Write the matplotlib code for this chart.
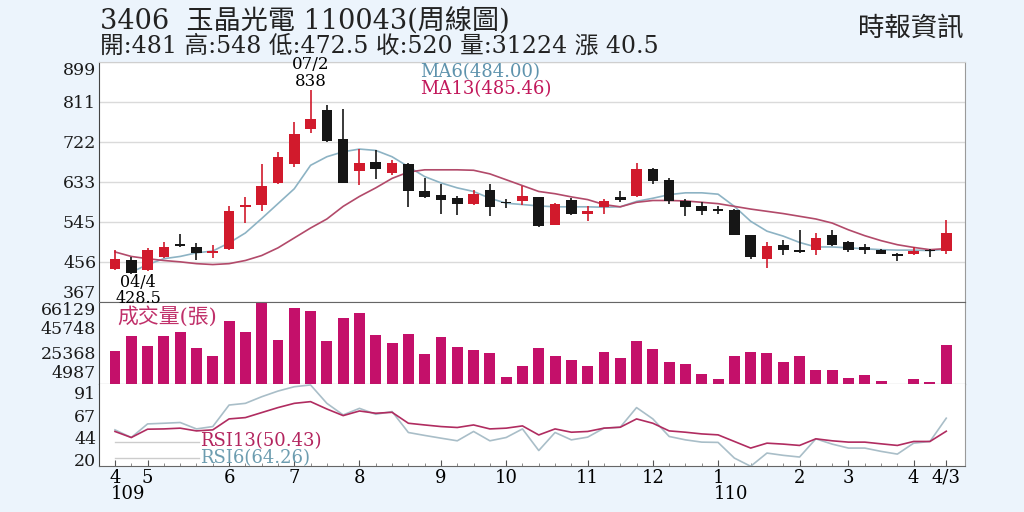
import numpy as np
import matplotlib.pyplot as plt
import matplotlib.transforms as mtransforms
from matplotlib.lines import Line2D

plt.rcParams['font.family'] = ['DejaVu Serif', 'Noto Sans CJK TC']

# weekly candles, 109/04 .. 110/04
opens = [441, 461, 439, 466, 494, 490, 476, 485, 578, 583, 631, 673, 750, 792, 728, 658, 678, 654,
         673, 614, 604, 597, 585, 616, 587, 590, 599, 538, 594, 561, 578, 599, 603, 662, 638, 591,
         579, 570, 570, 515, 463, 494, 483, 482, 516, 500, 488, 483, 474, 474, 481, 481]
highs = [482, 466, 486, 499, 518, 498, 494, 579, 599, 673, 700, 767, 838, 804, 794, 706, 703, 682,
         676, 642, 628, 601, 616, 629, 596, 625, 600, 586, 597, 580, 596, 614, 675, 663, 642, 596,
         589, 579, 573, 516, 499, 505, 526, 521, 527, 502, 496, 484, 475, 489, 485, 548]
lows = [438, 428.5, 436, 465, 489, 459, 465, 483, 543, 568, 628, 667, 741, 722, 630, 627, 639, 649,
        577, 598, 563, 559, 582, 557, 576, 583, 534, 537, 560, 546, 562, 588, 600, 629, 584, 557,
        560, 563, 515, 463, 443, 472, 476, 471, 492, 477, 474, 473, 457, 472, 467, 472.5]
closes = [463, 432, 483, 488, 492, 476, 481, 568, 581, 625, 689, 739, 772, 724, 631, 676, 661, 675,
          612, 600, 592, 584, 607, 578, 586, 602, 535, 585, 561, 569, 590, 592, 662, 636, 590, 578,
          569, 569, 516, 467, 492, 482, 478, 509, 494, 483, 482, 474, 468, 479, 479.5, 520]
volumes = [26600, 38900, 30700, 38600, 42100, 29400, 22500, 50600, 41600, 66129, 35600, 61500,
           58800, 34300, 53100, 57100, 39700, 32900, 40000, 24500, 37600, 29900, 27200, 24700,
           6000, 14400, 28800, 22900, 19000, 14900, 26100, 21200, 34800, 28300, 17600, 16300,
           7800, 4100, 22300, 26100, 25300, 17600, 22300, 11400, 11400, 4900, 7000, 2100, 300,
           3800, 1600, 31224]
ma6 = [np.nan, 433, 450, 463, 468, 476, 480, 498, 520, 552, 585, 618, 670, 689, 700, 706, 703, 689,
       667, 645, 631, 620, 612, 597, 586, 583, 580, 578, 578, 578, 577, 578, 590, 597, 605, 609,
       609, 606, 579, 546, 524, 513, 499, 489, 489, 487, 485, 483, 482, 482, 481, 484.00]
ma13 = [478, 468, 463, 459, 456, 452, 450, 452, 459, 470, 487, 509, 531, 551, 579, 601, 620, 641,
        655, 660, 660, 660, 659, 651, 638, 625, 612, 607, 600, 594, 583, 578, 588, 592, 592, 591,
        588, 585, 579, 573, 568, 563, 557, 551, 542, 527, 514, 503, 494, 488, 483, 485.46]
rsi13 = [50.2, 43.8, 52.6, 52.9, 53.7, 50.8, 51.9, 63.5, 64.9, 70.2, 75.5, 80, 81.8, 74, 67, 71.9,
         69.5, 70.5, 58.9, 57.1, 55.4, 54.4, 57.1, 52.9, 53.7, 56.1, 46.5, 52.9, 49.4, 50.2, 53.7,
         54.7, 63.5, 58.9, 50.8, 49.4, 47.6, 46.6, 39.6, 32.6, 37.8, 36.8, 35.4, 42.4, 40.3, 38.9,
         38.9, 37.1, 35.4, 39.6, 39.6, 50.43]
rsi6 = [51.9, 43.8, 58.2, 58.9, 59.7, 52.9, 55.4, 78.2, 80, 87, 93, 97.6, 99.5, 80, 67.7, 74.7,
        68.4, 71.3, 49.1, 46, 43.1, 40.3, 50.2, 40.3, 43.8, 52.9, 30, 49.1, 41.3, 44.2, 53.7, 54.7,
        75.5, 63.5, 44.9, 41.3, 38.9, 38.6, 22, 13.3, 27.3, 24.9, 23.1, 42.4, 36.8, 32.6, 32.6,
        29.1, 26.2, 37.8, 39.6, 64.26]

price_ticks = [367, 456, 545, 633, 722, 811, 899]
vol_ticks = [4987, 25368, 45748, 66129]
rsi_ticks = [20, 44, 67, 91]
month_pos = [0, 2, 7, 11, 15, 20, 24, 29, 33, 37, 42, 45, 49, 51]
month_lbl = ['4', '5', '6', '7', '8', '9', '10', '11', '12', '1', '2', '3', '4', '4/3']
year_pos = [0, 37]
year_lbl = ['109', '110']

RED = '#d11a2c'
BLACK = '#161616'
MAG = '#c4106a'
C_MA6 = '#8db3c4'
C_MA13 = '#b24a6a'
C_RSI6 = '#a9bec8'
C_RSI13 = '#b02c60'
BG = '#ecf4fc'

fig = plt.figure(figsize=(10.24, 5.12), dpi=100, facecolor=BG)


def px_axes(x0, y0, x1, y1):
    return fig.add_axes([x0 / 1024, 1 - y1 / 512, (x1 - x0) / 1024, (y1 - y0) / 512])


ax_p = px_axes(99, 62, 965, 302)
ax_v = px_axes(99, 302, 965, 384)
ax_r = px_axes(99, 384, 965, 466)
ax_p.set_zorder(3)

x = np.arange(len(closes))
o = np.array(opens, float)
c = np.array(closes, float)
cols = [RED if cc >= oo else BLACK for oo, cc in zip(o, c)]

# price panel
ax_p.vlines(x, lows, highs, colors=cols, lw=1.2, zorder=3)
ax_p.bar(x, np.maximum(np.abs(c - o), 3.5), bottom=np.minimum(o, c), width=0.65,
         color=cols, linewidth=0, zorder=4)
ax_p.plot(x, ma6, color=C_MA6, lw=1.2, zorder=2)
ax_p.plot(x, ma13, color=C_MA13, lw=1.2, zorder=2)
ax_p.set_ylim(price_ticks[0], price_ticks[-1])
ax_p.set_yticks(price_ticks)
ax_p.grid(axis='y', color='#dadada', lw=1)
ax_p.set_axisbelow(True)

ax_p.text(12, 838, '07/2\n838', ha='center', va='bottom', fontsize=12,
          linespacing=0.95, zorder=5)
ax_p.annotate('04/4\n428.5', xy=(1, 428.5), xytext=(5, 0), textcoords='offset points',
              ha='center', va='top', fontsize=11.5, linespacing=0.9, zorder=5)

# volume panel
ax_v.bar(x, volumes, width=0.67, color=MAG, linewidth=0)
ax_v.set_ylim(0, vol_ticks[-1])
ax_v.set_yticks(vol_ticks)
ax_v.text(0.021, 0.82, '成交量(張)', transform=ax_v.transAxes, color='#c0306a',
          fontsize=15, va='center', ha='left')

# rsi panel
ax_r.plot(x, rsi6, color=C_RSI6, lw=1.2)
ax_r.plot(x, rsi13, color=C_RSI13, lw=1.2)
ax_r.set_ylim(13.6, 100.5)
ax_r.set_yticks(rsi_ticks)

for ax in (ax_p, ax_v, ax_r):
    ax.set_xlim(-0.98, 52.15)
    ax.set_facecolor('white')
    ax.tick_params(axis='y', length=0, labelsize=12.5, pad=2, labelcolor='#1a1a1a')
    ax.spines['left'].set_color('#444444')
    ax.spines['right'].set_color('#9a9a9a')
    ax.spines['top'].set_visible(False)
    ax.spines['bottom'].set_color('#666666')
    if ax is not ax_r:
        ax.set_xticks([])

ax_p.spines['top'].set_visible(True)
ax_p.spines['top'].set_color('#cfcfcf')

ax_r.set_xticks(month_pos)
ax_r.set_xticklabels(month_lbl)
ax_r.set_xticks(x, minor=True)
ax_r.tick_params(axis='x', which='major', direction='in', length=4, labelsize=13, pad=2,
                 color='#555555')
ax_r.tick_params(axis='x', which='minor', direction='in', length=2, color='#777777')

fig.canvas.draw()
lbls = ax_p.get_yticklabels()
lbls[0].set_va('bottom')
lbls[-1].set_va('top')
lbls = ax_v.get_yticklabels()
lbls[0].set_va('baseline')
lbls[-1].set_va('top')

yr_tr = mtransforms.blended_transform_factory(ax_r.transData, fig.transFigure)
for p, t in zip(year_pos, year_lbl):
    fig.text(p - 0.25, 1 - 494 / 512, t, transform=yr_tr, ha='left', va='center', fontsize=13)

# legends
fig.add_artist(Line2D([337 / 1024, 419 / 1024], [1 - 72 / 512] * 2, color='#cccccc', lw=1))
fig.add_artist(Line2D([337 / 1024, 419 / 1024], [1 - 88 / 512] * 2, color='#cccccc', lw=1))
fig.text(420 / 1024, 1 - 72 / 512, f'MA6({ma6[-1]:.2f})', color='#5e93ad', fontsize=13,
         va='center', zorder=10)
fig.text(420 / 1024, 1 - 89 / 512, f'MA13({ma13[-1]:.2f})', color='#c2185b', fontsize=13,
         va='center', zorder=10)
fig.add_artist(Line2D([115 / 1024, 199 / 1024], [1 - 442 / 512] * 2, color='#cccccc', lw=1))
fig.add_artist(Line2D([115 / 1024, 199 / 1024], [1 - 458 / 512] * 2, color='#cccccc', lw=1))
fig.text(200 / 1024, 1 - 441 / 512, f'RSI13({rsi13[-1]:.2f})', color='#b3245e', fontsize=13,
         va='center', zorder=10)
fig.text(200 / 1024, 1 - 458 / 512, f'RSI6({rsi6[-1]:.2f})', color='#6d9db0', fontsize=13,
         va='center', zorder=10)

# header
fig.text(100 / 1024, 1 - 22 / 512, '3406  玉晶光電 110043(周線圖)', fontsize=19.5,
         va='center', color='#222222')
fig.text(100 / 1024, 1 - 46 / 512, '開:481 高:548 低:472.5 收:520 量:31224 漲 40.5',
         fontsize=17, va='center', color='#222222')
fig.text(963 / 1024, 1 - 28 / 512, '時報資訊', fontsize=19, ha='right', va='center',
         color='#222222')

fig.savefig('out.png', dpi=100, facecolor=BG)
